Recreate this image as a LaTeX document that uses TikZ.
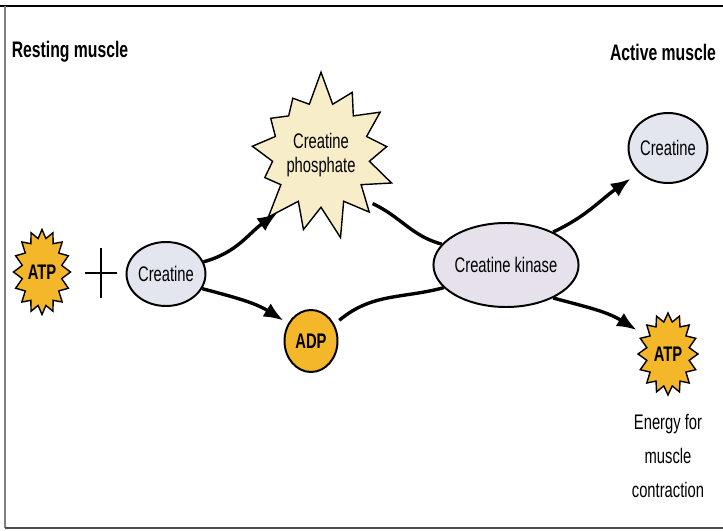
\documentclass[tikz,border=0pt]{standalone}
\usepackage{fontspec}
\setmainfont{Liberation Sans}[FakeStretch=0.7]
\usetikzlibrary{shapes.geometric,shapes.symbols,arrows.meta}
\definecolor{atporange}{HTML}{F5B72A}
\definecolor{crgray}{HTML}{E3E6EE}
\definecolor{ckviolet}{HTML}{E6E1EB}
\definecolor{cpcream}{HTML}{F8EDC9}
\newlength\pxu
\setlength\pxu{0.025cm}
\tikzstyle{line} = [draw, line width=2.4pt, -{Latex[length=14pt,width=11pt]}]
\tikzstyle{link} = [draw, line width=2.4pt]
\tikzstyle{oval} = [draw, ellipse, line width=1.4pt, inner sep=0pt, font=\fontsize{15pt}{17pt}\selectfont]
\tikzstyle{burst} = [draw, starburst, line width=1pt, inner sep=0pt, font=\fontsize{15pt}{17pt}\selectfont]
\tikzstyle{atpstar} = [burst, fill=atporange, random starburst=0, starburst points=16, starburst point height=6pt, font=\fontsize{15pt}{17pt}\selectfont\bfseries]
\tikzstyle{title} = [font=\fontsize{16pt}{18pt}\selectfont\bfseries]

\begin{document}
\begin{tikzpicture}[x=0.025cm, y=-0.025cm]
        \useasboundingbox (0,0) rectangle (723,531);
        % frame
        \draw[line width=1.2pt] (0,6) -- (723,6);
        \draw[gray, line width=1.2pt] (5,6) -- (5,528);
        \draw[black!70, line width=1.2pt] (5,528) -- (723,528);
        % titles
        \node[title] (rest) at (70,52) {Resting muscle};
        \node[title] (active) at (663,52) {Active muscle};
        % molecules
        \node[atpstar, minimum width=55\pxu, minimum height=85\pxu] (atpL) at (42,272) {ATP};
        \node[minimum width=32\pxu, minimum height=50\pxu, path picture={
            \draw[line width=1.8pt] (path picture bounding box.west) -- (path picture bounding box.east);
            \draw[line width=1.8pt] (path picture bounding box.north) -- (path picture bounding box.south);}] (plus) at (101,273) {};
        \node[oval, fill=crgray, minimum width=76\pxu, minimum height=64\pxu] (crL) at (166,274) {Creatine};
        \node[burst, fill=cpcream, random starburst=7, starburst points=13, starburst point height=24pt, minimum width=142\pxu, minimum height=172\pxu, align=center] (cp) at (321,155) {Creatine\\phosphate};
        \node[oval, fill=atporange, minimum width=53\pxu, minimum height=62\pxu, font=\fontsize{15pt}{17pt}\selectfont\bfseries] (adp) at (311,341) {ADP};
        \node[oval, fill=ckviolet, minimum width=122\pxu, minimum height=84\pxu] (ck) at (506,265) {Creatine kinase};
        \node[oval, fill=crgray, minimum width=78\pxu, minimum height=70\pxu] (crR) at (668,148) {Creatine};
        \node[atpstar, minimum width=60\pxu, minimum height=82\pxu] (atpR) at (668,354) {ATP};
        \node[align=center, font=\fontsize{15pt}{24pt}\selectfont] (energy) at (668,456) {Energy for\\muscle\\contraction};
        % reactions
        \path[line] (crL.18) to[out=15, in=215] (cp.233);
        \path[line] (crL.-22) to[out=-15, in=148] ([shift={(-4,-4)}]adp.145);
        \path[link] ([shift={(6,3)}]cp.-45) to[out=-25, in=165] (ck.162);
        \path[link] ([shift={(6,-2)}]adp.40) to[out=40, in=195] (ck.-160);
        \path[line] (ck.35) to[out=25, in=215] ([shift={(-8,6)}]crR.220);
        \path[line] (ck.-35) to[out=-15, in=148] ([shift={(-10,-6)}]atpR.140);
\end{tikzpicture}
\end{document}
